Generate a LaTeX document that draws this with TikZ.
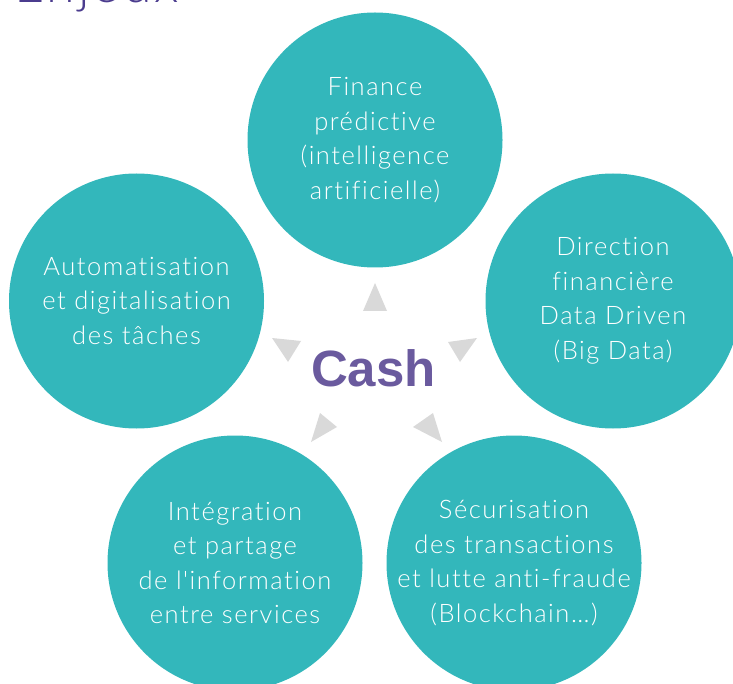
\documentclass[tikz,border=0pt]{standalone}
\usepackage{fontspec}
\setmainfont{Liberation Sans}
\newfontfamily\lightfont{Lato Light}[LetterSpace=6,Ligatures=NoCommon]
\definecolor{teal}{HTML}{33B7BB}
\definecolor{cashpurple}{HTML}{6A5A9E}
\definecolor{titlepurple}{HTML}{4B3C8E}
\definecolor{arrowgray}{HTML}{D9D9D9}
\begin{document}
\begin{tikzpicture}[x=1pt,y=-1pt,
  bubble/.style={circle,fill=teal,minimum size=255pt,inner sep=0pt},
  bubbletext/.style={text=white,align=center,inner sep=0pt,
    font=\lightfont\fontsize{25.5}{34.5}\selectfont},
  pointer/.style={fill=arrowgray}]
\useasboundingbox (0,0) rectangle (733,684);
\clip (0,0) rectangle (733,684);

% title, partly above the page edge
\node[anchor=base west,inner sep=0pt,text=titlepurple,
  font=\lightfont\fontsize{52}{52}\selectfont] (title) at (14,3) {Enjeux};

% five topic bubbles
\node[bubble] (top) at (375,140) {};
\node[bubble] (left) at (136.5,301) {};
\node[bubble] (right) at (613,301) {};
\node[bubble] (botleft) at (235,563) {};
\node[bubble] (botright) at (514,563) {};

\node[bubbletext] (toptext) at (top) {Finance\\prédictive\\(intelligence\\artificielle)};
\node[bubbletext] (lefttext) at (left) {Automatisation\\et digitalisation\\des tâches};
\node[bubbletext] (righttext) at (right) {Direction\\financière\\Data Driven\\(Big Data)};
\node[bubbletext] (botlefttext) at (botleft) {Intégration\\et partage\\de l'information\\entre services};
\node[bubbletext] (botrighttext) at (botright) {Sécurisation\\des transactions\\et lutte anti-fraude\\(Blockchain…)};

% centre word
\node[text=cashpurple,inner sep=0pt,font=\bfseries\fontsize{51}{51}\selectfont]
  (cash) at (373.5,368) {Cash};

% pointers from the centre towards each bubble
\fill[pointer] (375,283) -- (387,311) -- (363,311) -- cycle;
\fill[pointer] (272,338) -- (301,341) -- (288,362) -- cycle;
\fill[pointer] (477,338) -- (448,342) -- (460,362) -- cycle;
\fill[pointer] (311,442) -- (320,413) -- (337,427) -- cycle;
\fill[pointer] (442,442) -- (413,427) -- (433,413) -- cycle;
\end{tikzpicture}
\end{document}
